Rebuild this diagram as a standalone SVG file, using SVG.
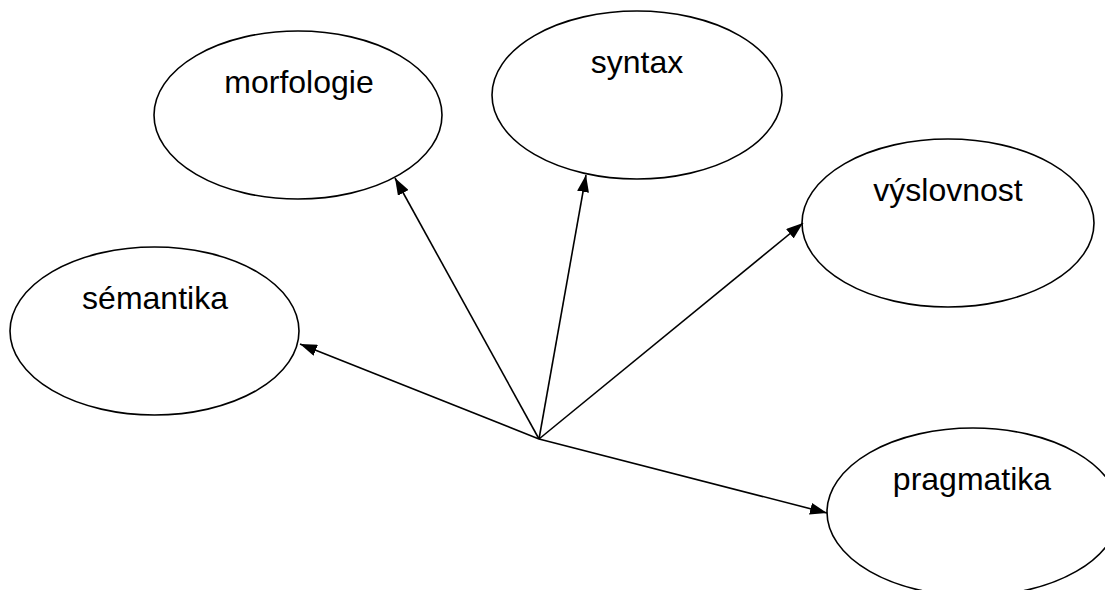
<svg xmlns="http://www.w3.org/2000/svg" width="1105" height="590" viewBox="0 0 1105 590">
<style>
.node ellipse{fill:#fff;stroke:#000;stroke-width:1.6}
.node text{font-family:"Liberation Sans",Arial,sans-serif;font-size:32px;fill:#000;text-anchor:middle}
.conn line{stroke:#000;stroke-width:1.6}
</style>
<defs>
<marker id="ah" viewBox="0 0 17 12" refX="17" refY="6" markerWidth="17" markerHeight="12" markerUnits="userSpaceOnUse" orient="auto">
<path d="M0,0 L17,6 L0,12 Z" fill="#000"/>
</marker>
</defs>
<rect width="1105" height="590" fill="#fff"/>
<g id="morfologie" class="node"><ellipse cx="298" cy="115" rx="144" ry="84"/><text x="299" y="93">morfologie</text></g>
<g id="syntax" class="node"><ellipse cx="637" cy="95" rx="145" ry="84"/><text x="637" y="73">syntax</text></g>
<g id="vyslovnost" class="node"><ellipse cx="948" cy="223" rx="146" ry="84"/><text x="948" y="201">výslovnost</text></g>
<g id="semantika" class="node"><ellipse cx="154.5" cy="331" rx="144.5" ry="84"/><text x="155" y="309">sémantika</text></g>
<g id="pragmatika" class="node"><ellipse cx="973" cy="512" rx="146" ry="84"/><text x="972" y="490">pragmatika</text></g>
<g id="connectors" class="conn">
<line x1="539" y1="439" x2="395" y2="178" marker-end="url(#ah)"/>
<line x1="539" y1="439" x2="586" y2="175" marker-end="url(#ah)"/>
<line x1="539" y1="439" x2="803" y2="223" marker-end="url(#ah)"/>
<line x1="539" y1="439" x2="300" y2="344" marker-end="url(#ah)"/>
<line x1="539" y1="439" x2="827" y2="513" marker-end="url(#ah)"/>
</g>
</svg>
